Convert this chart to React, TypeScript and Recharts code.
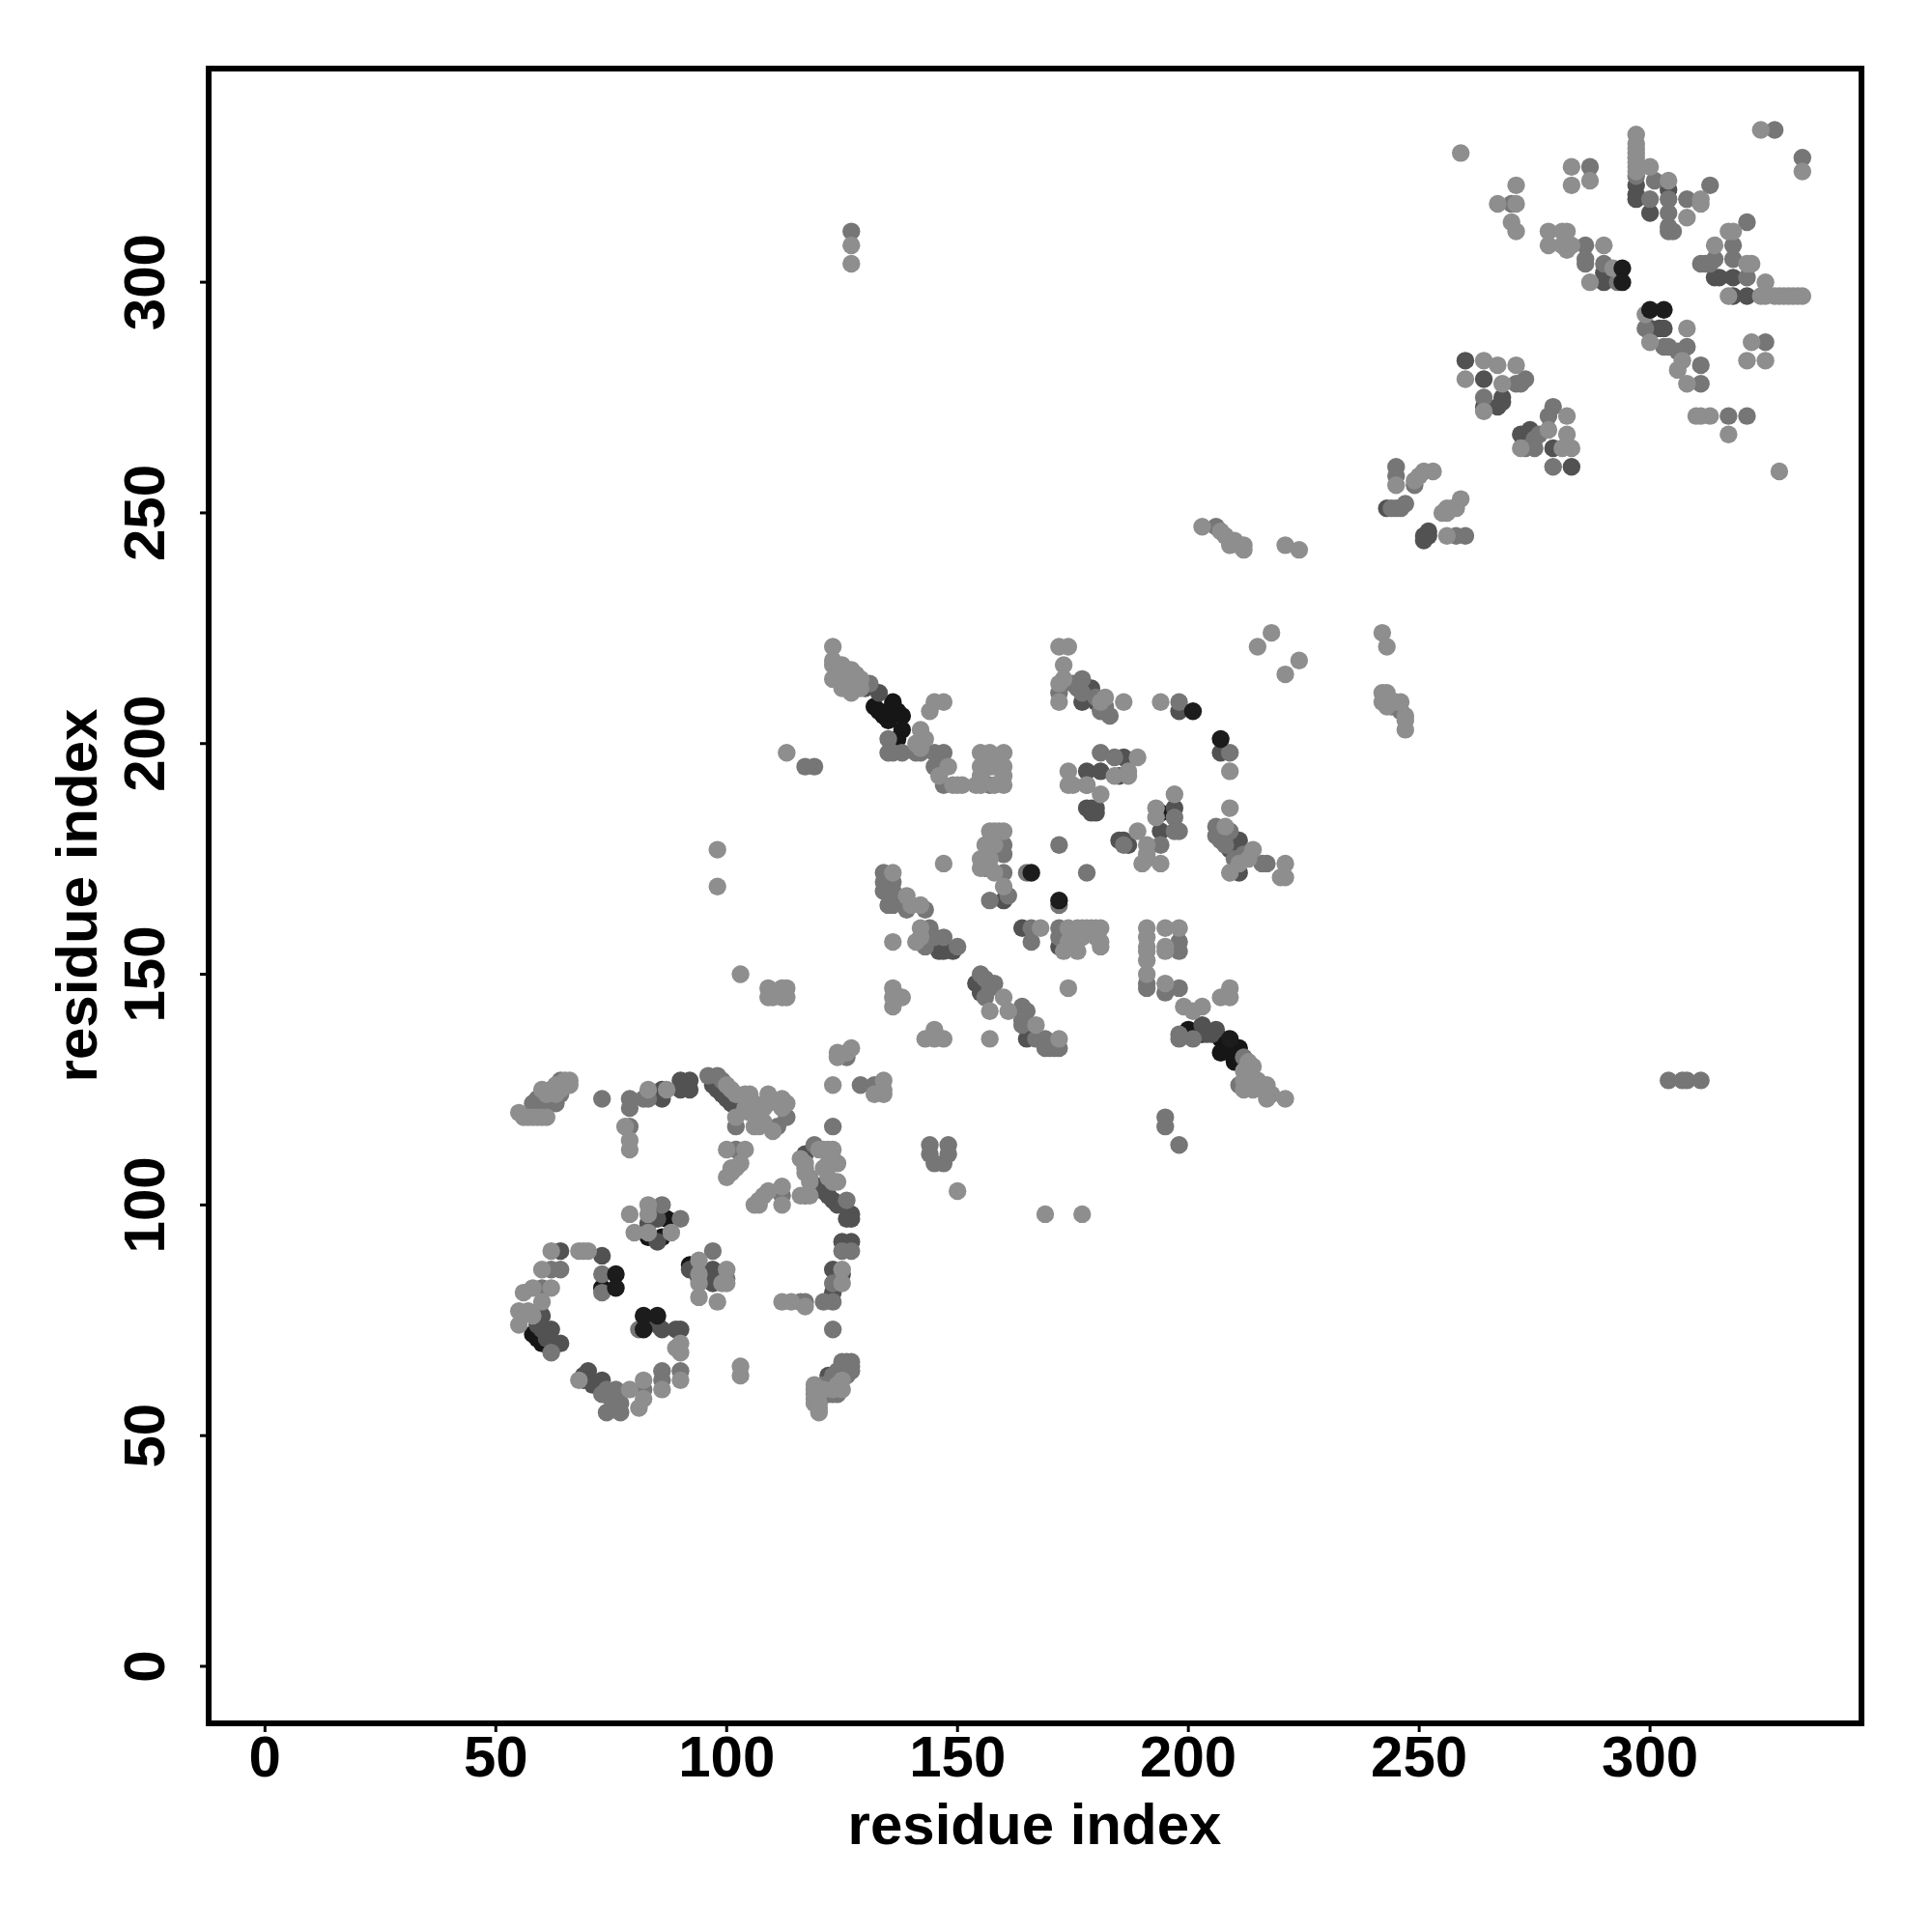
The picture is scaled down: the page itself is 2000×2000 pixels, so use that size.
import React from "react";
import { ScatterChart, Scatter, XAxis, YAxis, ReferenceArea, Label } from "recharts";

type P = [number, number];

const tickValues = [0, 50, 100, 150, 200, 250, 300];
const axisTitle = "residue index";

const lightPoints: P[] = [
  [55,120],[56,119],[57,119],[58,119],[59,119],[60,119],[61,119],[60,125],[61,124],[63,126],[65,127],[66,127],[66,126],[64,125],[63,124],
  [78,117],[79,114],[79,112],[83,125],[87,125],[100,126],[101,125],[102,124],[104,124],[105,124],[106,122],[104,121],[105,120],[107,120],[108,121],[109,124],[109,122],[112,123],[113,122],[112,121],[102,119],[106,117],[107,117],[108,118],[110,116],
  [100,112],[104,112],[103,109],[101,108],[100,106],[101,107],[102,108],[116,110],[117,107],[117,108],[117,109],[118,106],[118,105],[120,112],[121,112],[122,112],[123,112],[124,109],[123,110],[124,105],[123,105],[122,106],[121,108],[122,109],
  [116,102],[118,102],[106,100],[107,100],[109,103],[108,102],[107,101],[112,104],[112,100],[125,83],[125,86],[117,78],[112,79],[114,79],
  [125,60],[119,61],[119,58],[119,57],[119,59],[119,60],[120,55],[120,56],[120,57],[103,65],[103,63],[68,62],[79,60],[81,56],[82,58],[82,62],[86,60],[90,62],[89,69],[90,68],[90,70],
  [55,77],[55,74],[57,77],[58,76],[60,79],[56,81],[58,82],[62,82],[60,86],[62,90],[68,90],[69,90],[70,90],
  [79,98],[83,100],[83,98],[80,94],[83,94],[88,94],[94,88],[94,85],[100,86],[94,83],[100,83],[99,83],[94,80],[98,79],
  [124,133],[126,133],[124,132],[127,134],[134,127],[134,124],[132,124],[134,125],[123,126],
  [123,221],[123,218],[123,217],[124,216],[125,217],[126,216],[127,216],[123,214],[125,212],[126,212],[127,211],[128,215],[129,214],[142,203],[143,201],[142,199],[141,200],[145,209],[147,209],[144,207],[148,195],[146,193],[149,191],[150,191],[151,191],
  [155,198],[157,198],[160,198],[155,195],[158,195],[160,195],[155,191],[158,191],[160,191],[154,191],[155,193],[160,193],
  [157,181],[158,181],[159,181],[160,181],[156,178],[158,178],[155,175],[157,175],[155,173],[158,172],[147,174],[160,169],
  [172,221],[174,221],[173,217],[173,214],[172,213],[172,209],[182,210],[181,209],[186,209],[194,209],[209,194],[209,186],[197,189],[193,186],[193,184],[189,181],[191,178],[191,176],[191,175],[190,174],[194,174],[174,194],[174,191],[175,191],[181,189],[178,191],[184,193],[187,193],[187,194],[189,197],
  [208,182],[214,177],[211,174],[213,175],[209,172],[221,174],[220,171],[221,171],
  [136,172],[139,167],[142,165],[140,165],[142,160],[142,158],[141,157],[136,157],[136,147],[138,145],[136,143],[136,145],[145,138],[143,136],[145,136],[147,136],[157,136],
  [157,142],[161,142],[160,145],[167,139],[172,136],[174,147],[168,160],[174,160],[176,160],[177,160],[178,160],[179,160],[180,160],[181,160],[174,157],[175,157],[177,158],[180,158],[181,157],[181,156],[176,155],[173,155],
  [191,160],[191,158],[191,156],[191,155],[191,153],[195,160],[195,156],[198,160],[195,155],[191,150],[195,148],[203,143],[201,142],[199,143],[214,130],[213,131],[209,147],[207,145],[209,145],[212,127],[215,127],[217,126],[218,124],[217,123],[221,123],[214,125],[216,125],
  [218,224],[215,221],[224,218],[221,215],[98,177],[98,169],[103,150],[109,147],[112,147],[113,147],[109,145],[110,145],[112,145],[113,145],[113,198],[127,308],[127,304],[150,103],[169,98],[177,98],
  [203,247],[207,246],[208,245],[210,244],[211,243],[212,243],[209,243],[212,242],[221,243],[224,242],[242,224],[243,221],[242,211],[243,211],[242,209],[243,208],[246,209],[245,209],[247,206],[247,205],[247,203],
  [245,256],[253,259],[251,259],[250,258],[249,257],[259,253],[258,251],[257,251],[256,250],[255,250],[256,251],[256,245],
  [260,279],[264,283],[267,282],[271,282],[268,278],[264,272],[282,271],[282,267],[278,268],[272,264],[283,264],[281,264],[259,328],[271,321],[267,317],[271,317],[270,313],[271,311],[283,325],[283,321],[287,322],
  [297,332],[297,330],[297,329],[297,328],[297,327],[297,326],[297,325],[297,324],[300,325],[304,322],[311,318],[311,317],[308,314],[324,333],[333,324],
  [278,311],[281,311],[282,311],[278,308],[281,308],[282,307],[283,308],[290,308],[287,300],[292,303],[299,293],[300,287],[308,290],[307,283],[306,281],[308,278],[322,287],[321,283],[325,283],[310,271],[311,271],[313,271],[317,267],[328,259],
  [317,311],[318,311],[314,308],[321,304],[322,304],[325,300],[317,297],[324,297],[325,297],[327,297],[328,297],[329,297],[330,297],[331,297],[332,297],[333,297],
  [128,213],[127,213],[126,214],[125,214],[129,212],[212,129],[213,128],[214,127],[213,126],[212,125],[125,62],[124,61],[123,60],[121,60],
];

const midPoints: P[] = [
  [58,122],[59,123],[60,122],[61,122],[62,123],[63,122],[64,124],[65,126],[62,125],[64,127],[73,123],[79,123],[79,121],[79,117],[82,123],[83,123],
  [96,128],[98,128],[99,127],[102,117],[111,117],[113,119],[102,112],[119,113],[117,102],[126,101],[112,102],[123,117],[132,126],[125,90],[127,90],[123,83],[123,79],[121,79],[116,79],[117,79],[123,73],
  [127,66],[127,65],[126,66],[125,66],[127,64],[122,59],[123,59],[124,59],[123,62],[124,63],[73,59],[74,60],[74,55],[77,55],[76,60],[77,57],[75,58],[82,60],[86,64],[90,64],[86,62],
  [121,61],[122,61],[123,63],[124,64],[125,64],[126,65],[126,63],[122,60],
  [62,68],[60,82],[62,86],[64,86],[86,100],[90,97],[97,90],[100,84],[73,85],[73,81],[81,73],[129,126],
  [131,213],[135,201],[135,198],[136,198],[138,198],[141,198],[142,198],[145,198],[147,198],[145,195],[147,191],[157,195],[157,191],[157,178],[160,178],[156,175],[160,176],[156,173],[157,173],[160,172],[172,178],[178,172],[165,172],[172,165],[161,167],[157,166],
  [172,211],[177,214],[182,208],[182,207],[183,206],[181,207],[198,209],[209,198],[197,184],[197,181],[198,181],[194,178],[186,178],[181,198],[178,191],[184,197],[175,213],[176,212],[177,211],[180,210],
  [206,182],[207,181],[208,180],[209,181],[212,176],[217,174],[216,174],[206,180],[207,179],[208,178],[210,175],[134,172],[134,170],[136,170],[134,168],[136,168],[136,165],[135,165],[139,164],[143,164],[144,160],[145,158],[147,158],[150,156],[143,156],
  [155,150],[156,149],[157,147],[158,148],[156,145],[164,143],[165,142],[164,140],[164,139],[167,136],[169,136],[169,134],[172,134],[170,134],[171,134],[126,132],[166,160],[166,157],[172,160],[172,158],
  [198,157],[198,155],[191,148],[191,147],[195,146],[198,147],[198,137],[198,136],[201,136],[212,132],[211,126],[195,119],[195,117],[198,113],[127,311],[144,113],[148,113],[145,109],[147,109],[144,111],[148,111],[117,195],[119,195],[304,127],[308,127],[311,127],[307,127],
  [206,247],[245,260],[245,258],[244,251],[245,251],[246,251],[247,252],[249,256],[258,245],[260,245],[246,207],[244,208],
  [264,275],[271,278],[273,279],[272,278],[279,273],[278,271],[275,266],[276,267],[273,264],[275,264],[279,260],[270,317],[287,325],
  [297,323],[301,322],[300,318],[304,318],[304,315],[304,311],[305,311],[304,312],[308,318],[313,321],[308,286],[306,285],[311,282],[311,278],[325,287],[327,333],[333,327],[317,271],[321,271],
  [286,308],[286,305],[286,304],[290,304],[293,300],[299,290],[303,286],[304,286],[321,313],[318,308],[311,304],[312,304],[313,304],[314,305],[318,305],[321,301],
];

const darkPoints: P[] = [
  [60,121],[86,125],[86,123],[90,127],[92,127],[90,125],[92,125],[97,126],[98,125],[99,124],[100,123],[101,122],[117,111],[120,104],[121,103],[122,102],[123,101],[124,100],[127,98],[127,97],[126,97],
  [125,92],[127,92],[123,86],[125,85],[123,81],[122,63],[70,64],[69,62],[69,63],[70,62],[71,61],[72,61],[73,62],[90,73],[89,73],[86,73],[85,74],
  [64,70],[62,73],[60,76],[61,71],[59,74],[60,73],[64,90],[73,89],[85,97],[83,96],[85,92],[92,86],[97,86],[97,83],[96,84],
  [133,211],[130,212],[160,166],[179,212],[177,209],[178,210],[180,209],[198,207],[207,198],[197,186],[194,181],[185,179],[186,179],[187,178],[181,194],[178,194],[178,186],[179,186],[180,185],[180,186],[179,185],[186,197],[185,193],
  [211,179],[210,178],[209,177],[211,172],[149,155],[146,155],[147,155],[154,148],[155,146],[165,136],[164,160],[172,156],[203,139],[206,138],[205,137],[204,137],
  [243,251],[252,246],[251,245],[251,244],[252,245],[260,283],[264,279],[268,275],[264,273],[267,273],[268,274],[274,268],[273,267],[272,267],[279,264],[283,260],
  [297,321],[297,319],[297,318],[300,315],[304,320],[290,300],[290,302],[300,290],[302,290],[303,290],[314,301],[315,301],[318,301],[318,297],[321,297],
];

const blackPoints: P[] = [
  [136,209],[132,208],[134,206],[135,205],[137,207],[138,206],[137,201],[138,203],[135,207],[133,207],
  [200,138],[207,136],[208,135],[211,134],[207,133],[209,133],[210,131],[203,137],[83,93],[86,93],[87,97],[92,87],[94,84],[73,82],
  [60,70],[59,71],[58,72],[194,185],
];

const topPoints: P[] = [
  [76,85],[76,82],[85,76],[82,76],[82,73],[166,172],[172,166],[201,207],[207,201],[209,136],[294,303],[294,300],[300,294],[303,294],
];

const toRows = (pts: P[]) => pts.map(([x, y]) => ({ x, y }));

const Dot = (p: any) => <circle cx={p.cx} cy={p.cy} r={9.2} fill={p.fill} />;

const XTick = ({ x, payload }: any) => (
  <text x={x} y={1839} textAnchor="middle" fontFamily="Liberation Sans" fontWeight={700} fontSize={60} fill="#000">
    {payload.value}
  </text>
);

const YTick = ({ y, payload }: any) => (
  <text
    x={170}
    y={y}
    transform={`rotate(-90 170 ${y})`}
    textAnchor="middle"
    fontFamily="Liberation Sans"
    fontWeight={700}
    fontSize={60}
    fill="#000"
  >
    {payload.value}
  </text>
);

const axisLabelStyle = { fontFamily: "Liberation Sans", fontWeight: 700, fontSize: 60, fill: "#000" };

export default function App() {
  return (
    <div style={{ position: "absolute", left: 0, top: 0, width: 2000, height: 2000, background: "#fff" }}>
      <ScatterChart width={2000} height={2000} margin={{ left: 116, right: 73, top: 71, bottom: 116 }}>
        <XAxis
          type="number"
          dataKey="x"
          domain={[-12.2, 345.8]}
          ticks={tickValues}
          height={100}
          axisLine={false}
          tickSize={9}
          tickLine={{ stroke: "#000", strokeWidth: 3 }}
          tick={<XTick />}
          interval={0}
          allowDataOverflow
        >
          <Label
            content={() => (
              <text x={1071} y={1909} textAnchor="middle" {...axisLabelStyle}>
                {axisTitle}
              </text>
            )}
          />
        </XAxis>
        <YAxis
          type="number"
          dataKey="y"
          domain={[-12.36, 346.3]}
          ticks={tickValues}
          width={100}
          axisLine={false}
          tickSize={9}
          tickLine={{ stroke: "#000", strokeWidth: 3 }}
          tick={<YTick />}
          interval={0}
          allowDataOverflow
        >
          <Label
            content={() => (
              <text x={100} y={927} transform="rotate(-90 100 927)" textAnchor="middle" {...axisLabelStyle}>
                {axisTitle}
              </text>
            )}
          />
        </YAxis>
        <Scatter data={toRows(blackPoints)} fill="#161616" isAnimationActive={false} shape={Dot} />
        <Scatter data={toRows(darkPoints)} fill="#525252" isAnimationActive={false} shape={Dot} />
        <Scatter data={toRows(midPoints)} fill="#767676" isAnimationActive={false} shape={Dot} />
        <Scatter data={toRows(lightPoints)} fill="#8e8e8e" isAnimationActive={false} shape={Dot} />
        <Scatter data={toRows(topPoints)} fill="#1c1c1c" isAnimationActive={false} shape={Dot} />
        <ReferenceArea x1={-12.2} x2={345.8} y1={-12.36} y2={346.3} fill="none" stroke="#000" strokeWidth={6} ifOverflow="visible" />
      </ScatterChart>
    </div>
  );
}
